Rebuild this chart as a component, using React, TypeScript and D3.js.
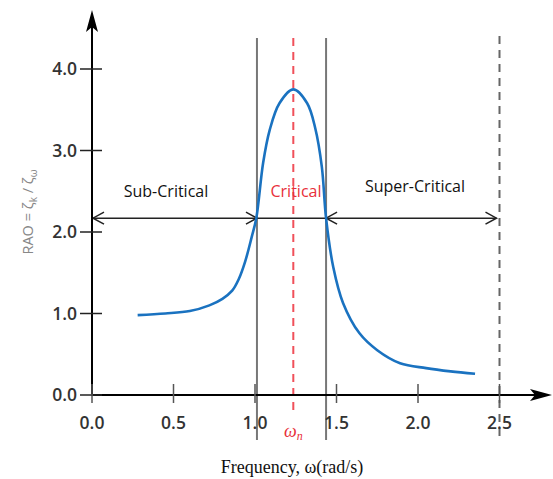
import React from "react";
import * as d3 from "d3";

const freq = [0.28, 0.45, 0.6, 0.72, 0.8, 0.86, 0.9, 0.94, 0.98, 1.008, 1.05, 1.09, 1.15, 1.235, 1.32, 1.37, 1.41, 1.436, 1.48, 1.54, 1.64, 1.75, 1.89, 2.05, 2.2, 2.35];
const rao = [0.98, 1.0, 1.03, 1.1, 1.18, 1.28, 1.42, 1.64, 1.94, 2.17, 2.85, 3.25, 3.58, 3.75, 3.58, 3.27, 2.8, 2.17, 1.57, 1.13, 0.76, 0.55, 0.39, 0.33, 0.29, 0.26];
const xTicks = [0, 0.5, 1.0, 1.5, 2.0, 2.5];
const yTicks = [0, 1, 2, 3, 4];
const lowerBound = 1.012;
const upperBound = 1.436;
const naturalFreq = 1.235;
const limitFreq = 2.5;
const arrowLevel = 2.17;

export default function App() {
  const W = 553, H = 479;
  const x = d3.scaleLinear().domain([0, 2.5]).range([92, 499.5]);
  const y = d3.scaleLinear().domain([0, 4]).range([395, 69]);
  const pts: [number, number][] = freq.map((f, i) => [f, rao[i]]);
  const line = d3.line<[number, number]>().x(d => x(d[0])).y(d => y(d[1])).curve(d3.curveCatmullRom.alpha(0.5));
  const tickFont = "'Open Sans', 'Liberation Sans', sans-serif";
  const ay = y(arrowLevel);
  const chev = (tipX: number, dir: number) => `M${tipX + dir * 11},${ay - 6} L${tipX},${ay} L${tipX + dir * 11},${ay + 6}`;
  const topY = 38, botY = 440;
  return (
    <svg width={W} height={H} style={{ position: "absolute", left: 0, top: 0, background: "#fff" }}>
      {/* vertical boundaries */}
      <line x1={x(lowerBound)} x2={x(lowerBound)} y1={topY} y2={botY} stroke="#777" strokeWidth={2} />
      <line x1={x(upperBound)} x2={x(upperBound)} y1={topY} y2={botY} stroke="#777" strokeWidth={2} />
      <line x1={x(limitFreq)} x2={x(limitFreq)} y1={36} y2={440} stroke="#666" strokeWidth={2} strokeDasharray="8,6" />
      <line x1={x(naturalFreq)} x2={x(naturalFreq)} y1={topY} y2={413} stroke="#f0505a" strokeWidth={2} strokeDasharray="8,6" />
      {/* horizontal arrows */}
      <line x1={x(0)} x2={x(limitFreq) - 3} y1={ay} y2={ay} stroke="#222" strokeWidth={1.5} />
      <g fill="none" stroke="#222" strokeWidth={1.5}>
        <path d={chev(x(0) + 1, 1)} />
        <path d={chev(x(lowerBound), -1)} />
        <path d={chev(x(upperBound), 1)} />
        <path d={chev(x(limitFreq) - 3, -1)} />
      </g>
      {/* curve */}
      <path d={line(pts) || ""} fill="none" stroke="#1a72c0" strokeWidth={2.6} />
      {/* axes */}
      <line x1={x(0)} x2={x(0)} y1={y(0)} y2={24} stroke="#000" strokeWidth={2} />
      <path d={`M${x(0) - 6},${32} L${x(0)},${10} L${x(0) + 6},${32} L${x(0)},${27} Z`} fill="#000" />
      <line x1={x(0) - 1} x2={538} y1={y(0)} y2={y(0)} stroke="#000" strokeWidth={2} />
      <path d={`M${530},${y(0) - 6} L${552},${y(0)} L${530},${y(0) + 6} L${535},${y(0)} Z`} fill="#000" />
      {yTicks.map(t => (
        <g key={"y" + t}>
          <line x1={x(0) - 12} x2={x(0) + 10} y1={y(t)} y2={y(t)} stroke="#222" strokeWidth={1.5} />
          <text x={77} y={y(t)} dy="0.36em" textAnchor="end" fontFamily={tickFont} fontSize={17.5} fontWeight={600} fill="#333">{t.toFixed(1)}</text>
        </g>
      ))}
      {xTicks.map(t => (
        <g key={"x" + t}>
          <line x1={x(t)} x2={x(t)} y1={y(0) - 11} y2={y(0) + 8} stroke="#555" strokeWidth={1.5} />
          <text x={x(t)} y={423} dy="0.36em" textAnchor="middle" fontFamily={tickFont} fontSize={17.5} fontWeight={600} fill="#333">{t.toFixed(1)}</text>
        </g>
      ))}
      {/* labels */}
      <text x={166} y={191} dy="0.36em" textAnchor="middle" fontFamily={tickFont} fontSize={16} fill="#111">Sub-Critical</text>
      <text x={296} y={191} dy="0.36em" textAnchor="middle" fontFamily={tickFont} fontSize={16} fill="#e8303a">Critical</text>
      <text x={415} y={186} dy="0.36em" textAnchor="middle" fontFamily={tickFont} fontSize={16} fill="#111">Super-Critical</text>
      <text x={x(naturalFreq)} y={437} textAnchor="middle" fontFamily="'Liberation Serif', serif" fontStyle="italic" fontSize={18} fill="#e8303a">ω<tspan fontSize={12} dy={3}>n</tspan></text>
      <text x={292} y={467} dy="0.36em" textAnchor="middle" fontFamily="'Liberation Serif', serif" fontSize={18} fill="#111">Frequency, ω(rad/s)</text>
      <text transform={`translate(33,212) rotate(-90)`} textAnchor="middle" fontFamily={tickFont} fontSize={14.5} fill="#888">
        RAO = ζ<tspan fontSize={10} dy={4}>k</tspan><tspan dy={-4}> / ζ</tspan><tspan fontSize={10} dy={4}>ω</tspan>
      </text>
    </svg>
  );
}
